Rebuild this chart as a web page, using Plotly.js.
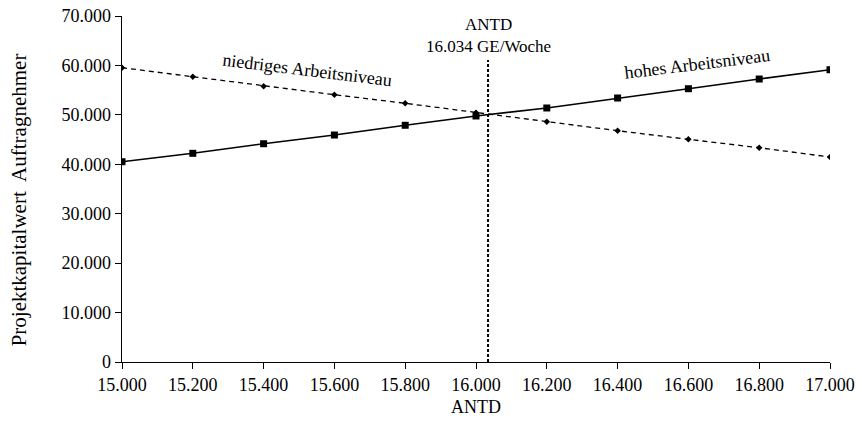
<!DOCTYPE html>
<html>
<head>
<meta charset="utf-8">
<script src="https://cdn.plot.ly/plotly-3.0.1.min.js"></script>
<style>html,body{margin:0;padding:0;background:#fff;}#chart{width:862px;height:427px;}</style>
</head>
<body>
<div id="chart"></div>
<script>
const antdValues = [15000, 15200, 15400, 15600, 15800, 16000, 16200, 16400, 16600, 16800, 17000];
const hohesNiveau = [40520, 42220, 44160, 45920, 47890, 49770, 51390, 53410, 55290, 57250, 59130];
const niedrigesNiveau = [59540, 57720, 55780, 54080, 52340, 50440, 48610, 46790, 45050, 43350, 41470];
const antdCritical = 16034;
const xTicks = [15000, 15200, 15400, 15600, 15800, 16000, 16200, 16400, 16600, 16800, 17000];
const yTicks = [0, 10000, 20000, 30000, 40000, 50000, 60000, 70000];

const font = 'Liberation Serif, Times New Roman, serif';

const traces = [
  {x: antdValues, y: hohesNiveau, type: 'scatter', mode: 'lines+markers',
   line: {color: '#000', width: 1.6}, marker: {symbol: 'square', size: 7, color: '#000'}},
  {x: antdValues, y: niedrigesNiveau, type: 'scatter', mode: 'lines+markers',
   line: {color: '#000', width: 1.3, dash: '5px,4px'}, marker: {symbol: 'diamond', size: 5, color: '#000'}}
];

const layout = {
  width: 862, height: 427,
  margin: {l: 122, r: 32, t: 16, b: 65},
  paper_bgcolor: '#fff', plot_bgcolor: '#fff',
  showlegend: false,
  separators: ',.',
  font: {family: font, size: 18, color: '#000'},
  xaxis: {
    range: [15000, 17000], tickvals: xTicks, tickformat: ',d',
    ticks: 'outside', ticklen: 6, tickcolor: '#000', tickwidth: 1,
    showline: true, linecolor: '#000', linewidth: 1.3, showgrid: false, zeroline: false,
    tickfont: {family: font, size: 18},
    title: {text: 'ANTD', font: {family: font, size: 18}, standoff: 6}
  },
  yaxis: {
    range: [0, 70000], tickvals: yTicks, tickformat: ',d',
    ticks: 'outside', ticklen: 6, tickcolor: '#000', tickwidth: 1,
    showline: true, linecolor: '#000', linewidth: 1.3, showgrid: false, zeroline: false,
    tickfont: {family: font, size: 18}
  },
  shapes: [
    {type: 'line', xref: 'x', yref: 'paper', x0: antdCritical, x1: antdCritical, y0: 0, y1: 0.873,
     line: {color: '#000', width: 2, dash: '3px,2px'}}
  ],
  annotations: [
    {xref: 'paper', yref: 'paper', x: -0.1455, y: 0.47, xanchor: 'center', yanchor: 'middle',
     text: 'Projektkapitalwert  Auftragnehmer', textangle: -90, showarrow: false,
     font: {family: font, size: 21}},
    {xref: 'x', yref: 'paper', x: antdCritical, y: 0.88, xanchor: 'center', yanchor: 'bottom',
     text: 'ANTD<br>16.034 GE/Woche', showarrow: false, font: {family: font, size: 17}},
    {xref: 'x', yref: 'y', x: 15523, y: 59070, text: 'niedriges Arbeitsniveau', showarrow: false,
     textangle: 7, font: {family: font, size: 18}},
    {xref: 'x', yref: 'y', x: 16624, y: 60290, text: 'hohes Arbeitsniveau', showarrow: false,
     textangle: -7, font: {family: font, size: 18}}
  ]
};

Plotly.newPlot('chart', traces, layout, {displayModeBar: false, staticPlot: true});
</script>
</body>
</html>
